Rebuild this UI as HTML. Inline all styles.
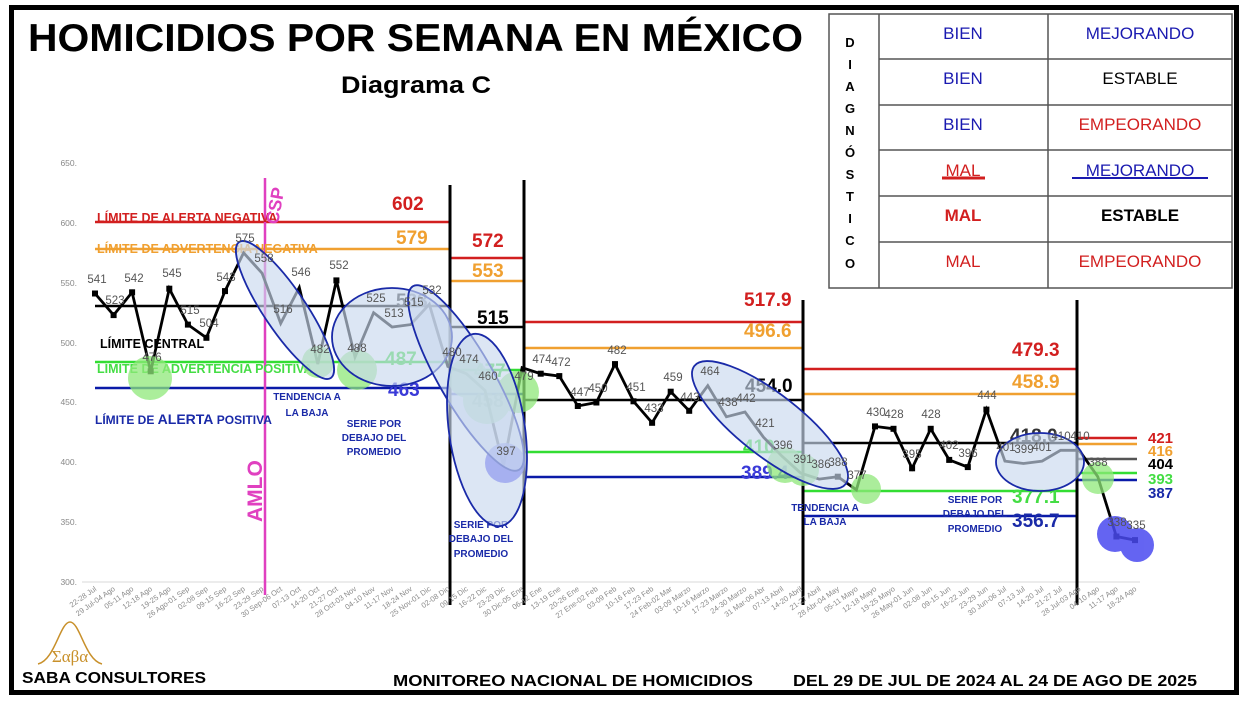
<!DOCTYPE html>
<html><head><meta charset="utf-8"><style>
html,body{margin:0;padding:0;background:#fff;}
svg{display:block;font-family:"Liberation Sans",sans-serif;}
.dl{font-size:11.5px;fill:#555;text-anchor:middle;}
.xl{font-size:7.5px;fill:#8a8a8a;text-anchor:end;}
.yl{font-size:8.5px;fill:#888;text-anchor:end;}
.tb{font-size:17px;text-anchor:middle;}
</style></head><body>
<svg width="1249" height="703" viewBox="0 0 1249 703" xmlns="http://www.w3.org/2000/svg">
<rect x="0" y="0" width="1249" height="703" fill="#fff"/>
<rect x="11.5" y="7.5" width="1225" height="685" fill="none" stroke="#000" stroke-width="5"/>

<!-- title -->
<text x="28" y="51" font-size="39" font-weight="bold" fill="#000" textLength="775" lengthAdjust="spacingAndGlyphs">HOMICIDIOS POR SEMANA EN MÉXICO</text>
<text x="341" y="93" font-size="24" font-weight="bold" fill="#000" textLength="150" lengthAdjust="spacingAndGlyphs">Diagrama C</text>

<!-- y axis -->
<g class="yl">
<text x="77" y="166">650.</text><text x="77" y="226">600.</text><text x="77" y="286">550.</text><text x="77" y="346">500.</text><text x="77" y="405">450.</text><text x="77" y="465">400.</text><text x="77" y="525">350.</text><text x="77" y="585">300.</text>
</g>
<line x1="82" y1="582" x2="1140" y2="582" stroke="#d8d8d8" stroke-width="1"/>

<g stroke-width="2.5">
<line x1="95" y1="222" x2="450" y2="222" stroke="#d21f1f"/>
<line x1="95" y1="249" x2="450" y2="249" stroke="#f0a030"/>
<line x1="95" y1="306" x2="450" y2="306" stroke="#000"/>
<line x1="95" y1="362" x2="450" y2="362" stroke="#33dd33"/>
<line x1="95" y1="388" x2="450" y2="388" stroke="#0a1aa8"/>
<line x1="450" y1="258" x2="524" y2="258" stroke="#d21f1f"/>
<line x1="450" y1="281" x2="524" y2="281" stroke="#f0a030"/>
<line x1="450" y1="327" x2="524" y2="327" stroke="#000"/>
<line x1="450" y1="370" x2="524" y2="370" stroke="#33dd33"/>
<line x1="450" y1="394" x2="524" y2="394" stroke="#0a1aa8"/>
<line x1="524" y1="322" x2="803" y2="322" stroke="#d21f1f"/>
<line x1="524" y1="348" x2="803" y2="348" stroke="#f0a030"/>
<line x1="524" y1="400" x2="803" y2="400" stroke="#000"/>
<line x1="524" y1="452" x2="803" y2="452" stroke="#33dd33"/>
<line x1="524" y1="477" x2="803" y2="477" stroke="#0a1aa8"/>
<line x1="803" y1="369" x2="1077" y2="369" stroke="#d21f1f"/>
<line x1="803" y1="394" x2="1077" y2="394" stroke="#f0a030"/>
<line x1="803" y1="443" x2="1077" y2="443" stroke="#000"/>
<line x1="803" y1="491" x2="1077" y2="491" stroke="#33dd33"/>
<line x1="803" y1="516" x2="1077" y2="516" stroke="#0a1aa8"/>
<line x1="1077" y1="438" x2="1137" y2="438" stroke="#d21f1f"/>
<line x1="1077" y1="444" x2="1137" y2="444" stroke="#f0a030"/>
<line x1="1077" y1="459" x2="1137" y2="459" stroke="#555"/>
<line x1="1077" y1="473" x2="1137" y2="473" stroke="#33dd33"/>
<line x1="1077" y1="480" x2="1137" y2="480" stroke="#0a1aa8"/>
</g>

<line x1="265" y1="178" x2="265" y2="595" stroke="#e040c0" stroke-width="2.5"/>
<g stroke="#000" stroke-width="3">
<line x1="450" y1="185" x2="450" y2="605"/>
<line x1="524" y1="180" x2="524" y2="605"/>
<line x1="803" y1="300" x2="803" y2="605"/>
<line x1="1077" y1="300" x2="1077" y2="605"/>
</g>

<g font-size="12.5" font-weight="bold">
<text x="97" y="222" fill="#d21f1f">LÍMITE DE ALERTA NEGATIVA</text>
<text x="97" y="253" fill="#f0a030">LÍMITE DE ADVERTENCIA NEGATIVA</text>
<text x="100" y="348" fill="#000">LÍMITE CENTRAL</text>
<text x="97" y="373" fill="#44dd44">LÍMITE DE ADVERTENCIA POSITIVA</text>
<text x="95" y="424" fill="#1a2aa8" font-size="12">LÍMITE DE <tspan font-size="14">ALERTA</tspan> POSITIVA</text>
</g>
<g font-size="10" font-weight="bold" fill="#1a2aa8" text-anchor="middle">
<text x="307" y="400">TENDENCIA A</text><text x="307" y="416">LA BAJA</text>
<text x="374" y="427">SERIE POR</text><text x="374" y="441">DEBAJO DEL</text><text x="374" y="455">PROMEDIO</text>
<text x="481" y="528">SERIE POR</text><text x="481" y="542">DEBAJO DEL</text><text x="481" y="557">PROMEDIO</text>
<text x="825" y="511">TENDENCIA A</text><text x="825" y="525">LA BAJA</text>
<text x="975" y="503">SERIE POR</text><text x="975" y="517">DEBAJO DEL</text><text x="975" y="532">PROMEDIO</text>
</g>
<text transform="translate(262,522) rotate(-90)" font-size="21" font-weight="bold" fill="#e040c0">AMLO</text>
<text transform="translate(278,225) rotate(-80)" font-size="18" font-weight="bold" fill="#e040c0">CSP</text>

<g font-size="19" font-weight="bold">
<text x="392" y="210" fill="#d21f1f">602</text>
<text x="396" y="244" fill="#f0a030">579</text>
<text x="472" y="247" fill="#d21f1f">572</text>
<text x="472" y="277" fill="#f0a030">553</text>
<text x="477" y="324" fill="#000">515</text>
<text x="744" y="306" fill="#d21f1f">517.9</text>
<text x="744" y="337" fill="#f0a030">496.6</text>
<text x="745" y="392" fill="#000">454.0</text>
<text x="1012" y="356" fill="#d21f1f">479.3</text>
<text x="1012" y="388" fill="#f0a030">458.9</text>
<text x="1010" y="442" fill="#333">418.0</text>
<text x="1012" y="503" fill="#44dd44">377.1</text>
<text x="1012" y="527" fill="#1a2aa8">356.7</text>
<text x="385" y="365" fill="#44dd44">487</text>
<text x="388" y="396" fill="#3a3ad8">463</text>
<text x="396" y="307" fill="#333">533</text>
<text x="474" y="377" fill="#44dd44">477</text>
<text x="472" y="407" fill="#777">458</text>
<text x="743" y="453" fill="#44dd44">410</text>
<text x="741" y="479" fill="#3a3ad8">389.4</text>
</g>
<g font-size="15" font-weight="bold">
<text x="1148" y="443" fill="#d21f1f">421</text>
<text x="1148" y="456" fill="#f0a030">416</text>
<text x="1148" y="469" fill="#000">404</text>
<text x="1148" y="484" fill="#44dd44">393</text>
<text x="1148" y="498" fill="#1a2aa8">387</text>
</g>

<polyline fill="none" stroke="#000" stroke-width="2.8" points="95,293.5 113.6,315.1 132.1,292.3 150.7,371.3 169.3,288.7 187.9,324.6 206.4,337.8 225,291.1 243.6,252.8 262.1,273.2 280.7,323.4 299.3,287.5 317.8,364.1 336.4,280.4 355,357 373.6,312.7 392.1,327 410.7,324.6 429.3,304.3 447.8,366.5 466.4,373.7 485,390.5 503.5,465.9 522.1,367.7 540.7,373.7 559.3,376.1 577.8,406 596.4,402.5 615,364.1 633.5,401.3 652.1,422.8 670.7,391.7 689.2,410.8 707.8,385.7 726.4,416.8 745,412 763.5,437.2 782.1,456.3 800.7,473.1 819.2,479.1 837.8,476.7 856.4,489.8 875,426.4 893.5,428.8 912.1,468.3 930.7,428.8 949.2,459.9 967.8,467.1 986.4,409.6 1004.9,461.1 1023.5,463.5 1042.1,461.1 1060.6,450.3 1079.2,450.3 1097.8,476.7 1116.4,536.5 1135,540.1"/>
<g fill="#000">
<rect x="92" y="290.5" width="6" height="6"/><rect x="110.6" y="312.1" width="6" height="6"/><rect x="129.1" y="289.3" width="6" height="6"/><rect x="147.7" y="368.3" width="6" height="6"/><rect x="166.3" y="285.7" width="6" height="6"/><rect x="184.9" y="321.6" width="6" height="6"/><rect x="203.4" y="334.8" width="6" height="6"/><rect x="222" y="288.1" width="6" height="6"/><rect x="333.4" y="277.4" width="6" height="6"/><rect x="537.7" y="370.7" width="6" height="6"/><rect x="556.3" y="373.1" width="6" height="6"/><rect x="574.8" y="403" width="6" height="6"/><rect x="593.4" y="399.5" width="6" height="6"/><rect x="612" y="361.1" width="6" height="6"/><rect x="630.5" y="398.3" width="6" height="6"/><rect x="649.1" y="419.8" width="6" height="6"/><rect x="667.7" y="388.7" width="6" height="6"/><rect x="686.2" y="407.8" width="6" height="6"/><rect x="834.8" y="473.7" width="6" height="6"/><rect x="872" y="423.4" width="6" height="6"/><rect x="890.5" y="425.8" width="6" height="6"/><rect x="909.1" y="465.3" width="6" height="6"/><rect x="927.7" y="425.8" width="6" height="6"/><rect x="946.2" y="456.9" width="6" height="6"/><rect x="964.8" y="464.1" width="6" height="6"/><rect x="983.4" y="406.6" width="6" height="6"/><rect x="1113.4" y="533.5" width="6" height="6"/><rect x="1132" y="537.1" width="6" height="6"/>
</g>

<g fill="#8fe87a" opacity="0.75">
<circle cx="150" cy="378" r="22"/><circle cx="318" cy="362" r="16"/><circle cx="357" cy="370" r="20"/>
<circle cx="468" cy="378" r="20"/><circle cx="487" cy="400" r="24"/><circle cx="518" cy="392" r="21"/>
<circle cx="785" cy="465" r="18"/><circle cx="803" cy="470" r="16"/><circle cx="866" cy="489" r="15"/><circle cx="1098" cy="478" r="16"/>
</g>
<g fill="#4a4af0" opacity="0.85">
<circle cx="505" cy="463" r="20"/><circle cx="1115" cy="534" r="18"/><circle cx="1137" cy="545" r="17"/>
</g>

<g fill="#c9d9ee" fill-opacity="0.65" stroke="#1a2aa8" stroke-width="1.8">
<ellipse cx="285" cy="310" rx="82" ry="21" transform="rotate(56 285 310)"/>
<ellipse cx="392" cy="337" rx="60" ry="49"/>
<ellipse cx="466" cy="378" rx="106" ry="27" transform="rotate(60 466 378)"/>
<ellipse cx="487" cy="430" rx="97" ry="38" transform="rotate(82 487 430)"/>
<ellipse cx="770" cy="425" rx="96" ry="31" transform="rotate(38 770 425)"/>
<ellipse cx="1040" cy="462" rx="44" ry="29"/>
</g>

<g class="dl">
<text x="97" y="283">541</text><text x="115" y="304">523</text><text x="134" y="282">542</text><text x="152" y="361">476</text><text x="172" y="277">545</text><text x="190" y="314">515</text><text x="209" y="327">504</text><text x="226" y="281">543</text><text x="245" y="242">575</text><text x="264" y="262">558</text><text x="283" y="313">516</text><text x="301" y="276">546</text><text x="320" y="353">482</text><text x="339" y="269">552</text><text x="357" y="352">488</text><text x="376" y="302">525</text><text x="394" y="317">513</text><text x="414" y="306">515</text><text x="432" y="294">532</text><text x="452" y="356">480</text><text x="469" y="363">474</text><text x="488" y="380">460</text><text x="506" y="455">397</text><text x="524" y="380">479</text><text x="542" y="363">474</text><text x="561" y="366">472</text><text x="580" y="396">447</text><text x="598" y="392">450</text><text x="617" y="354">482</text><text x="636" y="391">451</text><text x="654" y="412">433</text><text x="673" y="381">459</text><text x="690" y="401">443</text><text x="710" y="375">464</text><text x="728" y="406">438</text><text x="746" y="402">442</text><text x="765" y="427">421</text><text x="783" y="449">396</text><text x="803" y="463">391</text><text x="821" y="468">386</text><text x="838" y="466">388</text><text x="857" y="479">377</text><text x="876" y="416">430</text><text x="894" y="418">428</text><text x="912" y="458">395</text><text x="931" y="418">428</text><text x="949" y="449">402</text><text x="968" y="457">396</text><text x="987" y="399">444</text><text x="1006" y="451">401</text><text x="1024" y="453">399</text><text x="1042" y="451">401</text><text x="1061" y="440">410</text><text x="1080" y="440">410</text><text x="1098" y="466">388</text><text x="1117" y="526">338</text><text x="1136" y="529">335</text>
</g>

<g class="xl">
<text transform="translate(97,590) rotate(-35)">22-28 Jul</text>
<text transform="translate(115.6,590) rotate(-35)">29 Jul-04 Ago</text>
<text transform="translate(134.1,590) rotate(-35)">05-11 Ago</text>
<text transform="translate(152.7,590) rotate(-35)">12-18 Ago</text>
<text transform="translate(171.3,590) rotate(-35)">19-25 Ago</text>
<text transform="translate(189.9,590) rotate(-35)">26 Ago-01 Sep</text>
<text transform="translate(208.4,590) rotate(-35)">02-08 Sep</text>
<text transform="translate(227,590) rotate(-35)">09-15 Sep</text>
<text transform="translate(245.6,590) rotate(-35)">16-22 Sep</text>
<text transform="translate(264.1,590) rotate(-35)">23-29 Sep</text>
<text transform="translate(282.7,590) rotate(-35)">30 Sep-06 Oct</text>
<text transform="translate(301.3,590) rotate(-35)">07-13 Oct</text>
<text transform="translate(319.8,590) rotate(-35)">14-20 Oct</text>
<text transform="translate(338.4,590) rotate(-35)">21-27 Oct</text>
<text transform="translate(357,590) rotate(-35)">28 Oct-03 Nov</text>
<text transform="translate(375.6,590) rotate(-35)">04-10 Nov</text>
<text transform="translate(394.1,590) rotate(-35)">11-17 Nov</text>
<text transform="translate(412.7,590) rotate(-35)">18-24 Nov</text>
<text transform="translate(431.3,590) rotate(-35)">25 Nov-01 Dic</text>
<text transform="translate(449.8,590) rotate(-35)">02-08 Dic</text>
<text transform="translate(468.4,590) rotate(-35)">09-15 Dic</text>
<text transform="translate(487,590) rotate(-35)">16-22 Dic</text>
<text transform="translate(505.5,590) rotate(-35)">23-29 Dic</text>
<text transform="translate(524.1,590) rotate(-35)">30 Dic-05 Ene</text>
<text transform="translate(542.7,590) rotate(-35)">06-12 Ene</text>
<text transform="translate(561.3,590) rotate(-35)">13-19 Ene</text>
<text transform="translate(579.8,590) rotate(-35)">20-26 Ene</text>
<text transform="translate(598.4,590) rotate(-35)">27 Ene-02 Feb</text>
<text transform="translate(617,590) rotate(-35)">03-09 Feb</text>
<text transform="translate(635.5,590) rotate(-35)">10-16 Feb</text>
<text transform="translate(654.1,590) rotate(-35)">17-23 Feb</text>
<text transform="translate(672.7,590) rotate(-35)">24 Feb-02 Mar</text>
<text transform="translate(691.2,590) rotate(-35)">03-09 Marzo</text>
<text transform="translate(709.8,590) rotate(-35)">10-16 Marzo</text>
<text transform="translate(728.4,590) rotate(-35)">17-23 Marzo</text>
<text transform="translate(747,590) rotate(-35)">24-30 Marzo</text>
<text transform="translate(765.5,590) rotate(-35)">31 Mar-06 Abr</text>
<text transform="translate(784.1,590) rotate(-35)">07-13 Abril</text>
<text transform="translate(802.7,590) rotate(-35)">14-20 Abril</text>
<text transform="translate(821.2,590) rotate(-35)">21-27 Abril</text>
<text transform="translate(839.8,590) rotate(-35)">28 Abr-04 May</text>
<text transform="translate(858.4,590) rotate(-35)">05-11 Mayo</text>
<text transform="translate(877,590) rotate(-35)">12-18 Mayo</text>
<text transform="translate(895.5,590) rotate(-35)">19-25 Mayo</text>
<text transform="translate(914.1,590) rotate(-35)">26 May-01 Jun</text>
<text transform="translate(932.7,590) rotate(-35)">02-08 Jun</text>
<text transform="translate(951.2,590) rotate(-35)">09-15 Jun</text>
<text transform="translate(969.8,590) rotate(-35)">16-22 Jun</text>
<text transform="translate(988.4,590) rotate(-35)">23-29 Jun</text>
<text transform="translate(1006.9,590) rotate(-35)">30 Jun-06 Jul</text>
<text transform="translate(1025.5,590) rotate(-35)">07-13 Jul</text>
<text transform="translate(1044.1,590) rotate(-35)">14-20 Jul</text>
<text transform="translate(1062.6,590) rotate(-35)">21-27 Jul</text>
<text transform="translate(1081.2,590) rotate(-35)">28 Jul-03 Ago</text>
<text transform="translate(1099.8,590) rotate(-35)">04-10 Ago</text>
<text transform="translate(1118.4,590) rotate(-35)">11-17 Ago</text>
<text transform="translate(1137,590) rotate(-35)">18-24 Ago</text>
</g>

<rect x="829" y="14" width="403" height="274" fill="#fff" stroke="#555" stroke-width="1.5"/>
<g stroke="#555" stroke-width="1.5">
<line x1="879" y1="14" x2="879" y2="288"/><line x1="1048" y1="14" x2="1048" y2="288"/>
<line x1="879" y1="59" x2="1232" y2="59"/><line x1="879" y1="105" x2="1232" y2="105"/><line x1="879" y1="150" x2="1232" y2="150"/><line x1="879" y1="196" x2="1232" y2="196"/><line x1="879" y1="242" x2="1232" y2="242"/>
</g>
<g font-size="13" font-weight="bold" text-anchor="middle" fill="#000">
<text x="850" y="47">D</text><text x="850" y="69">I</text><text x="850" y="91">A</text><text x="850" y="113">G</text><text x="850" y="135">N</text><text x="850" y="157">Ó</text><text x="850" y="179">S</text><text x="850" y="201">T</text><text x="850" y="223">I</text><text x="850" y="245">C</text><text x="850" y="268">O</text>
</g>
<g class="tb">
<text x="963" y="39" fill="#1a1ab0">BIEN</text><text x="1140" y="39" fill="#1a1ab0">MEJORANDO</text>
<text x="963" y="84" fill="#1a1ab0">BIEN</text><text x="1140" y="84" fill="#000">ESTABLE</text>
<text x="963" y="130" fill="#1a1ab0">BIEN</text><text x="1140" y="130" fill="#d21f1f">EMPEORANDO</text>
<text x="963" y="176" fill="#d21f1f">MAL</text><text x="1140" y="176" fill="#1a1ab0">MEJORANDO</text>
<text x="963" y="221" fill="#d21f1f" font-weight="bold">MAL</text><text x="1140" y="221" fill="#000" font-weight="bold">ESTABLE</text>
<text x="963" y="267" fill="#d21f1f">MAL</text><text x="1140" y="267" fill="#d21f1f">EMPEORANDO</text>
</g>
<line x1="942" y1="178" x2="985" y2="178" stroke="#d21f1f" stroke-width="3"/>
<line x1="1072" y1="178" x2="1208" y2="178" stroke="#1a1ab0" stroke-width="2"/>

<path d="M38,664 C55,660 60,622 70,622 C80,622 85,660 102,664" fill="none" stroke="#c8902a" stroke-width="1.5"/>
<text x="70" y="662" font-size="17" fill="#c8902a" text-anchor="middle" font-family="Liberation Serif,serif">Σαβα</text>

<g font-size="16" font-weight="bold" fill="#000">
<text x="22" y="683" textLength="184" lengthAdjust="spacingAndGlyphs">SABA CONSULTORES</text>
<text x="393" y="686" textLength="360" lengthAdjust="spacingAndGlyphs">MONITOREO NACIONAL DE HOMICIDIOS</text>
<text x="793" y="686" textLength="404" lengthAdjust="spacingAndGlyphs">DEL 29 DE JUL DE 2024 AL 24 DE AGO DE 2025</text>
</g>
</svg>
</body></html>
